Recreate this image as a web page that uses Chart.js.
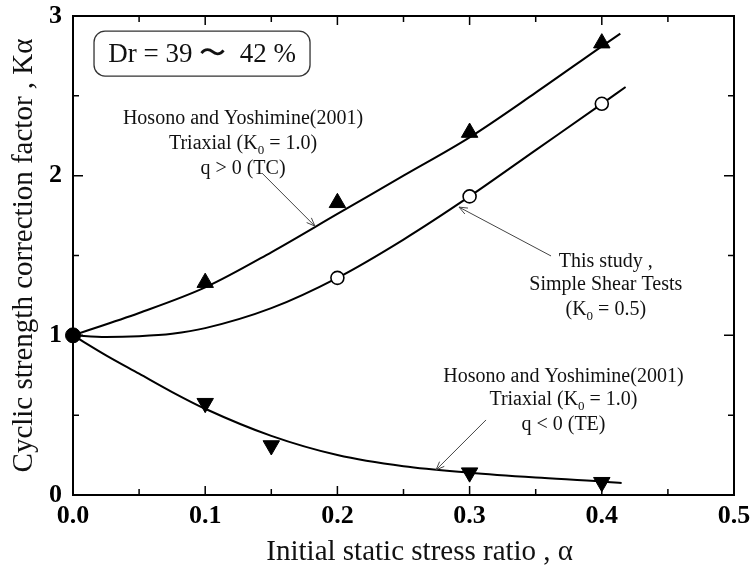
<!DOCTYPE html>
<html>
<head>
<meta charset="utf-8">
<script src="https://cdn.jsdelivr.net/npm/chart.js@4.4.1/dist/chart.umd.min.js"></script>
<style>
html,body{margin:0;padding:0;background:#fff;}
#wrap{width:752px;height:569px;}
</style>
</head>
<body>
<div id="wrap"><canvas id="c" width="752" height="569"></canvas></div>
<script>
// ---- data ----
const xTickValues = [0, 0.1, 0.2, 0.3, 0.4, 0.5];
const xTickLabels = ['0.0', '0.1', '0.2', '0.3', '0.4', '0.5'];
const yTickValues = [0, 1, 2, 3];
const yTickLabels = ['0', '1', '2', '3'];

// Hosono and Yoshimine (2001), triaxial compression (q > 0)
const tcX = [0.1, 0.2, 0.3, 0.4];
const tcY = [1.33, 1.83, 2.27, 2.83];
// This study, simple shear tests
const ssX = [0.2, 0.3, 0.4];
const ssY = [1.36, 1.87, 2.45];
// Hosono and Yoshimine (2001), triaxial extension (q < 0)
const teX = [0.1, 0.15, 0.3, 0.4];
const teY = [0.575, 0.31, 0.14, 0.08];
// common origin point
const originX = [0];
const originY = [1];

// fitted curves
const tcCurveX = [0, 0.05, 0.1, 0.15, 0.2, 0.25, 0.3, 0.35, 0.4, 0.414];
const tcCurveY = [1, 1.14, 1.30, 1.52, 1.76, 2.0, 2.24, 2.52, 2.81, 2.89];
const ssCurveX = [0, 0.025, 0.05, 0.075, 0.1, 0.15, 0.2, 0.25, 0.3, 0.35, 0.4, 0.418];
const ssCurveY = [1, 0.99, 0.995, 1.01, 1.045, 1.17, 1.36, 1.6, 1.87, 2.16, 2.45, 2.555];
const teCurveX = [0, 0.025, 0.05, 0.075, 0.1, 0.15, 0.2, 0.25, 0.3, 0.35, 0.4, 0.415];
const teCurveY = [1, 0.875, 0.76, 0.645, 0.54, 0.37, 0.25, 0.18, 0.14, 0.11, 0.085, 0.075];

const xTitle = 'Initial static stress ratio , \u03b1';
const yTitle = 'Cyclic strength correction factor , K\u03b1';
const boxText = 'Dr = 39 \u301c  42 %';

const pts = (xs, ys) => xs.map((x, i) => ({x: x, y: ys[i]}));
const SERIF = "'Liberation Serif','Times New Roman',serif";

// annotations: lines as segments [text, isSubscript]
const notes = [
  {cx: 0.1286, ys: [2.367, 2.21, 2.054], lines: [
    [['Hosono and Yoshimine(2001)', false]],
    [['Triaxial (K', false], ['0', true], [' = 1.0)', false]],
    [['q > 0 (TC)', false]]],
   arrow: [0.143, 2.016, 0.183, 1.684]},
  {cx: 0.403, ys: [1.471, 1.327, 1.171], lines: [
    [['This study ,', false]],
    [['Simple Shear Tests', false]],
    [['(K', false], ['0', true], [' = 0.5)', false]]],
   arrow: [0.3616, 1.497, 0.292, 1.803]},
  {cx: 0.371, ys: [0.751, 0.607, 0.451], lines: [
    [['Hosono and Yoshimine(2001)', false]],
    [['Triaxial (K', false], ['0', true], [' = 1.0)', false]],
    [['q < 0 (TE)', false]]],
   arrow: [0.3124, 0.47, 0.2746, 0.157]}
];
const box = {x0: 0.0159, x1: 0.1793, y0: 2.905, y1: 2.624};

const decor = {
  id: 'decor',
  afterDraw(chart) {
    const ctx = chart.ctx;
    const xs = chart.scales.x, ys = chart.scales.y;
    const X = v => xs.getPixelForValue(v), Y = v => ys.getPixelForValue(v);
    const a = chart.chartArea;
    ctx.save();
    // frame
    ctx.strokeStyle = '#000';
    ctx.lineWidth = 2;
    ctx.beginPath();
    ctx.moveTo(a.left, a.top); ctx.lineTo(a.right, a.top); ctx.lineTo(a.right, a.bottom);
    ctx.stroke();
    // inward ticks
    ctx.lineWidth = 1.5;
    ctx.beginPath();
    for (let i = 1; i < 10; i++) {
      const v = i * 0.05, px = X(v), L = (i % 2 === 0) ? 9 : 6;
      ctx.moveTo(px, a.bottom); ctx.lineTo(px, a.bottom - L);
      ctx.moveTo(px, a.top); ctx.lineTo(px, a.top + L);
    }
    for (let i = 1; i < 6; i++) {
      const v = i * 0.5, py = Y(v), L = (i % 2 === 0) ? 10 : 6;
      ctx.moveTo(a.left, py); ctx.lineTo(a.left + L, py);
      ctx.moveTo(a.right, py); ctx.lineTo(a.right - L, py);
    }
    ctx.stroke();
    // x axis title
    ctx.fillStyle = '#111';
    ctx.font = '29px ' + SERIF;
    ctx.textAlign = 'center';
    ctx.textBaseline = 'alphabetic';
    ctx.fillText(xTitle, a.left + (a.right - a.left) * 0.5245, a.bottom + 65);
    // Dr box
    const bx = X(box.x0), by = Y(box.y0), bw = X(box.x1) - bx, bh = Y(box.y1) - by;
    ctx.lineWidth = 1.3;
    ctx.strokeStyle = '#333';
    ctx.beginPath();
    ctx.roundRect(bx, by, bw, bh, 11);
    ctx.stroke();
    ctx.font = '27px ' + SERIF;
    ctx.textBaseline = 'middle';
    ctx.fillText(boxText, bx + bw / 2, by + bh / 2 + 1);
    // annotations
    ctx.textBaseline = 'alphabetic';
    ctx.textAlign = 'left';
    const mainFont = '20px ' + SERIF, subFont = '13px ' + SERIF;
    notes.forEach(n => {
      n.lines.forEach((segs, li) => {
        let w = 0;
        segs.forEach(s => { ctx.font = s[1] ? subFont : mainFont; w += ctx.measureText(s[0]).width; });
        let px = X(n.cx) - w / 2;
        const base = Y(n.ys[li]) + 7;
        segs.forEach(s => {
          ctx.font = s[1] ? subFont : mainFont;
          ctx.fillText(s[0], px, s[1] ? base + 5 : base);
          px += ctx.measureText(s[0]).width;
        });
      });
      const [x0, y0, x1, y1] = n.arrow;
      const p0x = X(x0), p0y = Y(y0), p1x = X(x1), p1y = Y(y1);
      ctx.strokeStyle = '#444';
      ctx.lineWidth = 1;
      ctx.beginPath();
      ctx.moveTo(p0x, p0y); ctx.lineTo(p1x, p1y);
      const ang = Math.atan2(p1y - p0y, p1x - p0x), hl = 9, ha = 0.38;
      ctx.moveTo(p1x, p1y); ctx.lineTo(p1x - hl * Math.cos(ang - ha), p1y - hl * Math.sin(ang - ha));
      ctx.moveTo(p1x, p1y); ctx.lineTo(p1x - hl * Math.cos(ang + ha), p1y - hl * Math.sin(ang + ha));
      ctx.stroke();
    });
    ctx.restore();
  }
};

const curveStyle = {showLine: true, borderColor: '#000', borderWidth: 2, pointRadius: 0,
  cubicInterpolationMode: 'monotone', fill: false};

new Chart(document.getElementById('c'), {
  type: 'scatter',
  data: {
    datasets: [
      {label: 'origin', data: pts(originX, originY), pointStyle: 'circle', pointRadius: 7.5,
       backgroundColor: '#000', borderColor: '#000', borderWidth: 1, clip: false},
      {label: 'TC', data: pts(tcX, tcY), pointStyle: 'triangle', pointRadius: 9.5,
       backgroundColor: '#000', borderColor: '#000', borderWidth: 1, clip: false},
      {label: 'SS', data: pts(ssX, ssY), pointStyle: 'circle', pointRadius: 6.5,
       backgroundColor: '#fff', borderColor: '#000', borderWidth: 1.6, clip: false},
      {label: 'TE', data: pts(teX, teY), pointStyle: 'triangle', pointRadius: 9.5, rotation: 180,
       backgroundColor: '#000', borderColor: '#000', borderWidth: 1, clip: false},
      Object.assign({label: 'TC fit', data: pts(tcCurveX, tcCurveY)}, curveStyle),
      Object.assign({label: 'SS fit', data: pts(ssCurveX, ssCurveY)}, curveStyle),
      Object.assign({label: 'TE fit', data: pts(teCurveX, teCurveY)}, curveStyle)
    ]
  },
  options: {
    responsive: false,
    devicePixelRatio: 1,
    animation: false,
    layout: {padding: {top: 16, right: 18, left: 0, bottom: 0}},
    plugins: {legend: {display: false}, tooltip: {enabled: false}},
    scales: {
      x: {
        type: 'linear', min: 0, max: 0.5,
        afterBuildTicks: s => { s.ticks = xTickValues.map(v => ({value: v})); },
        afterFit: s => { s.height = 74; s.paddingLeft = 0; s.paddingRight = 0; },
        grid: {display: false, drawTicks: false},
        border: {display: true, color: '#000', width: 2},
        ticks: {padding: 6, color: '#000', maxRotation: 0, autoSkip: false,
          font: {family: SERIF, size: 26, weight: 'bold'},
          callback: (v, i) => xTickLabels[i]},
        title: {display: false}
      },
      y: {
        type: 'linear', min: 0, max: 3,
        afterBuildTicks: s => { s.ticks = yTickValues.map(v => ({value: v})); },
        afterFit: s => { s.width = 73; s.paddingTop = 0; s.paddingBottom = 0; },
        grid: {display: false, drawTicks: false},
        border: {display: true, color: '#000', width: 2},
        ticks: {padding: 11, color: '#000', autoSkip: false,
          font: {family: SERIF, size: 26, weight: 'bold'},
          callback: (v, i) => yTickLabels[i]},
        title: {display: true, text: yTitle, color: '#111', padding: {top: 7, bottom: 0},
          font: {family: SERIF, size: 29}}
      }
    }
  },
  plugins: [decor]
});
</script>
</body>
</html>
